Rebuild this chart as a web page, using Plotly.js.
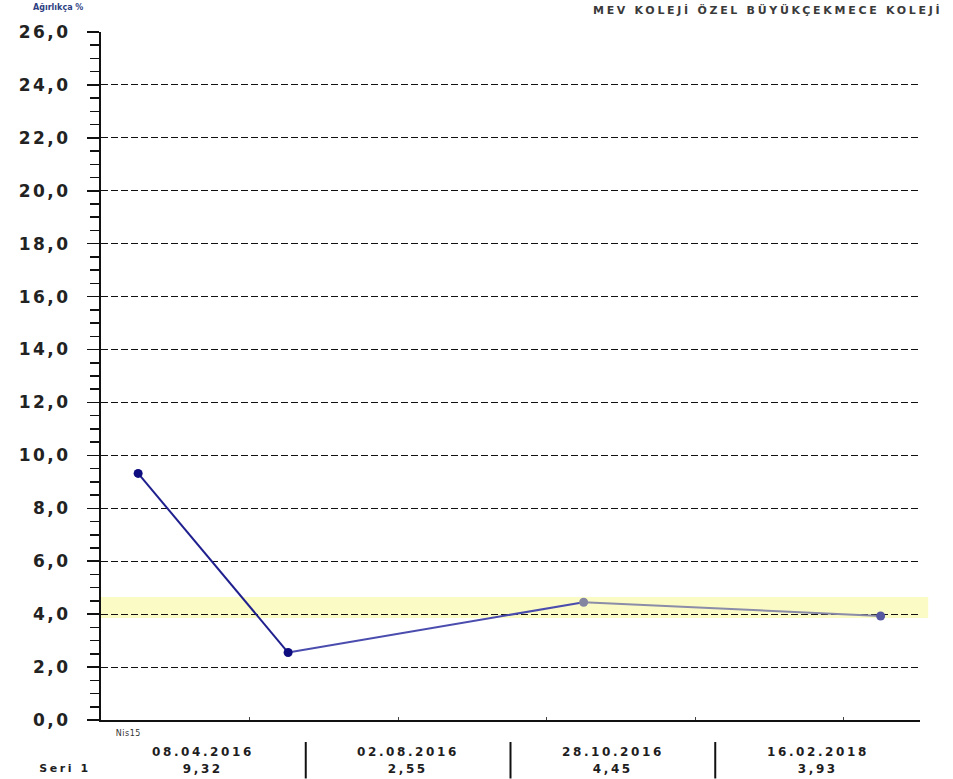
<!DOCTYPE html>
<html>
<head>
<meta charset="utf-8">
<script src="https://cdn.plot.ly/plotly-3.0.1.min.js"></script>
<style>
  html, body { margin: 0; padding: 0; background: #fff; overflow: hidden; }
  #chart { width: 953px; height: 779px; }
  .ytick text { letter-spacing: 2.5px; }
  .annotation text { letter-spacing: 2.6px; }
  .annotation[data-index="0"] text { letter-spacing: 0px; }
  .annotation[data-index="1"] text { letter-spacing: 0.5px; }
  .gtitle { letter-spacing: 2.7px; }
</style>
</head>
<body>
<div id="chart"></div>
<script>
// ---- data ----
const dates = ["08.04.2016", "02.08.2016", "28.10.2016", "16.02.2018"];
const values = [9.32, 2.55, 4.45, 3.93];
const valueLabels = ["9,32", "2,55", "4,45", "3,93"];
const xSlots = [0.25, 1.26, 3.25, 5.25];
const seriesName = "Seri 1";
const periodLabel = "Nis15";
const bandRange = [3.85, 4.65];
const yTickVals = [0, 2, 4, 6, 8, 10, 12, 14, 16, 18, 20, 22, 24, 26];
const yTickText = ["0,0", "2,0", "4,0", "6,0", "8,0", "10,0", "12,0", "14,0", "16,0", "18,0", "20,0", "22,0", "24,0", "26,0"];
const gridVals = [2, 4, 6, 8, 10, 12, 14, 16, 18, 20, 22, 24];
const yTitle = "Ağırlıkça %";
const headerText = "MEV KOLEJİ ÖZEL BÜYÜKÇEKMECE KOLEJİ";

// ---- styles ----
const segColors = ["#1f1f8e", "#4a4cae", "#8a8ca8"];
const markerColors = ["#0d0d80", "#0d0d80", "#8485a0", "#5557a0"];
const F = "DejaVu Sans, Arial, sans-serif";
const txt = "#1e1e1e";

const traces = [];
for (let i = 0; i < values.length - 1; i++) {
  traces.push({
    type: "scatter", mode: "lines",
    x: xSlots.slice(i, i + 2), y: values.slice(i, i + 2),
    line: { color: segColors[i], width: 2 },
    hoverinfo: "skip", showlegend: false
  });
}
traces.push({
  type: "scatter", mode: "markers",
  x: xSlots, y: values, name: seriesName,
  marker: { color: markerColors, size: 9, line: { width: 0 } },
  showlegend: false
});
// invisible trace to activate the gridline overlay axis
traces.push({
  type: "scatter", mode: "markers", x: [xSlots[0]], y: [values[0]],
  yaxis: "y2", marker: { opacity: 0 }, hoverinfo: "skip", showlegend: false
});

const annotations = [];
annotations.push({ xref: "paper", yref: "paper", x: -0.0525, y: 1.035, text: yTitle, showarrow: false,
  xanchor: "center", yanchor: "middle", font: { family: F, size: 8, weight: "bold", color: "#2d3f82" } });
annotations.push({ xref: "paper", yref: "paper", x: 0.017, y: -0.019, text: periodLabel, showarrow: false,
  xanchor: "left", yanchor: "middle", font: { family: F, size: 8, color: "#333" } });
dates.forEach((d, i) => annotations.push({ xref: "paper", yref: "paper", x: (i + 0.5) / dates.length, y: -0.0465,
  text: d, showarrow: false, xanchor: "center", yanchor: "middle",
  font: { family: F, size: 12, weight: "bold", color: txt } }));
valueLabels.forEach((v, i) => annotations.push({ xref: "paper", yref: "paper", x: (i + 0.5) / dates.length, y: -0.0712,
  text: v, showarrow: false, xanchor: "center", yanchor: "middle",
  font: { family: F, size: 12, weight: "bold", color: txt } }));
annotations.push({ xref: "paper", yref: "paper", x: -0.044, y: -0.0712, text: seriesName, showarrow: false,
  xanchor: "center", yanchor: "middle", font: { family: F, size: 11, weight: "bold", color: txt } });

const shapes = [{
  type: "rect", xref: "paper", yref: "y", x0: 0, x1: 1.01, y0: bandRange[0], y1: bandRange[1],
  fillcolor: "#fbfbc6", line: { width: 0 }, layer: "below"
}];
for (let i = 1; i < dates.length; i++) {
  shapes.push({ type: "line", xref: "paper", yref: "paper", x0: i / dates.length, x1: i / dates.length,
    y0: -0.032, y1: -0.085, line: { color: "#111", width: 2 } });
}

const layout = {
  width: 953, height: 779,
  margin: { l: 101, r: 33, t: 32, b: 59, pad: 0 },
  paper_bgcolor: "#ffffff", plot_bgcolor: "rgba(0,0,0,0)",
  showlegend: false,
  title: {
    text: headerText, xref: "container", yref: "container",
    x: 593 / 953, xanchor: "left", y: 1 - 10 / 779, yanchor: "middle",
    font: { family: F, size: 11, weight: "bold", color: "#3a3a3a" }
  },
  xaxis: {
    range: [0, 5.515], showgrid: false, zeroline: false,
    showline: true, linecolor: "#111", linewidth: 2,
    tickmode: "linear", tick0: 0, dtick: 1, ticks: "inside", ticklen: 3, tickwidth: 1, tickcolor: "#444",
    showticklabels: false, fixedrange: true
  },
  yaxis: {
    range: [0, 26], showgrid: false, zeroline: false,
    showline: true, linecolor: "#111", linewidth: 2,
    tickmode: "array", tickvals: yTickVals, ticktext: yTickText,
    ticks: "outside", ticklen: 12, tickwidth: 1.5, tickcolor: "#111",
    ticklabelstandoff: 13,
    minor: { dtick: 0.5, tick0: 0, ticks: "outside", ticklen: 9, tickwidth: 1.5, tickcolor: "#111", showgrid: false },
    tickfont: { family: F, size: 17, weight: "bold", color: "#222" },
    fixedrange: true
  },
  yaxis2: {
    overlaying: "y", range: [0, 26], side: "left",
    tickmode: "array", tickvals: gridVals, showticklabels: false, ticks: "",
    showgrid: true, gridcolor: "#111", gridwidth: 1, griddash: "7px,3px",
    zeroline: false, showline: false, fixedrange: true
  },
  shapes: shapes,
  annotations: annotations
};

Plotly.newPlot("chart", traces, layout, { displayModeBar: false, staticPlot: true });
</script>
</body>
</html>
